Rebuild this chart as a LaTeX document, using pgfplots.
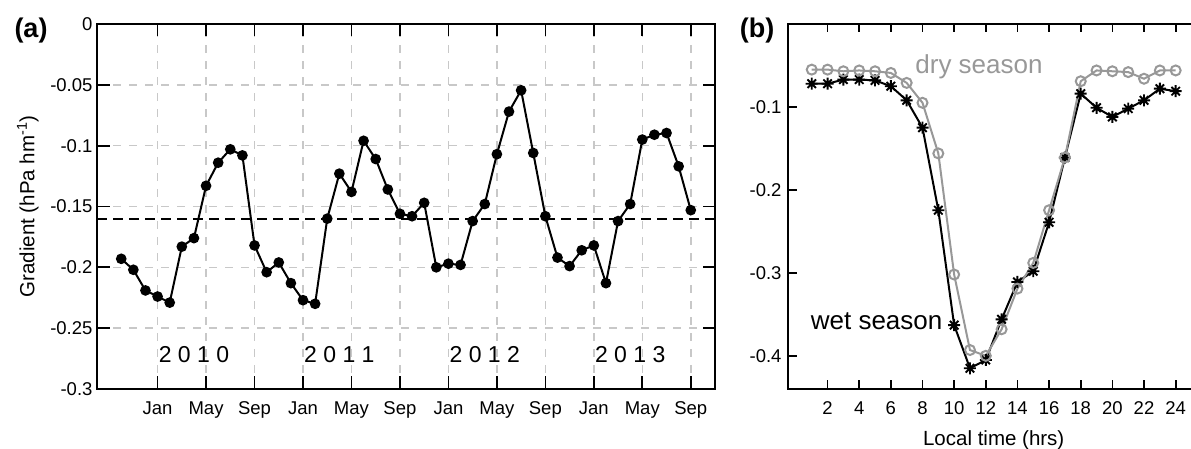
\documentclass[border=0pt]{standalone}
\usepackage{fontspec}
\setmainfont{Liberation Sans}
\usepackage{pgfplots}
\pgfplotsset{compat=1.18}
\definecolor{drygray}{RGB}{152,152,152}
\definecolor{gridgray}{RGB}{200,200,200}
\pgfdeclareplotmark{ast8}{%
  \pgfpathmoveto{\pgfqpoint{-\pgfplotmarksize}{0pt}}\pgfpathlineto{\pgfqpoint{\pgfplotmarksize}{0pt}}%
  \pgfpathmoveto{\pgfqpoint{0pt}{-\pgfplotmarksize}}\pgfpathlineto{\pgfqpoint{0pt}{\pgfplotmarksize}}%
  \pgfpathmoveto{\pgfqpoint{-0.707\pgfplotmarksize}{-0.707\pgfplotmarksize}}\pgfpathlineto{\pgfqpoint{0.707\pgfplotmarksize}{0.707\pgfplotmarksize}}%
  \pgfpathmoveto{\pgfqpoint{-0.707\pgfplotmarksize}{0.707\pgfplotmarksize}}\pgfpathlineto{\pgfqpoint{0.707\pgfplotmarksize}{-0.707\pgfplotmarksize}}%
  \pgfusepathqstroke}
\pgfplotstableread{
m v
-3 -0.193
-2 -0.202
-1 -0.219
0 -0.224
1 -0.229
2 -0.183
3 -0.176
4 -0.133
5 -0.114
6 -0.103
7 -0.108
8 -0.182
9 -0.204
10 -0.196
11 -0.213
12 -0.227
13 -0.230
14 -0.160
15 -0.123
16 -0.138
17 -0.096
18 -0.111
19 -0.136
20 -0.156
21 -0.158
22 -0.147
23 -0.200
24 -0.197
25 -0.198
26 -0.162
27 -0.148
28 -0.107
29 -0.072
30 -0.0545
31 -0.106
32 -0.158
33 -0.192
34 -0.199
35 -0.186
36 -0.182
37 -0.213
38 -0.162
39 -0.148
40 -0.095
41 -0.091
42 -0.0896
43 -0.117
44 -0.153
}\monthly
\pgfplotstableread{
h wet dry
1 -0.072 -0.055
2 -0.072 -0.055
3 -0.067 -0.057
4 -0.067 -0.056
5 -0.068 -0.057
6 -0.075 -0.059
7 -0.092 -0.071
8 -0.125 -0.095
9 -0.2245 -0.156
10 -0.363 -0.302
11 -0.415 -0.393
12 -0.405 -0.400
13 -0.356 -0.368
14 -0.311 -0.319
15 -0.298 -0.288
16 -0.239 -0.2245
17 -0.161 -0.161
18 -0.084 -0.069
19 -0.101 -0.056
20 -0.112 -0.057
21 -0.102 -0.058
22 -0.092 -0.066
23 -0.078 -0.056
24 -0.081 -0.056
}\diurnal
\begin{document}
\begin{tikzpicture}
\useasboundingbox (0,0) rectangle (1191pt,449pt);
\clip (0,0) rectangle (1191pt,449pt);
\pgfplotsset{
  every tick label/.append style={font=\fontsize{18.5}{20}\selectfont},
  every axis label/.append style={font=\fontsize{20.5}{23}\selectfont},
}
\begin{axis}[
  at={(97pt,60pt)}, anchor=south west, scale only axis,
  width=618pt, height=365pt,
  xmin=-5, xmax=46, ymin=-0.3, ymax=0,
  xtick={0,4,...,44},
  xticklabels={Jan,May,Sep,Jan,May,Sep,Jan,May,Sep,Jan,May,Sep},
  ytick={-0.3,-0.25,-0.2,-0.15,-0.1,-0.05,0},
  yticklabels={-0.3,-0.25,-0.2,-0.15,-0.1,-0.05,0},
  tick align=inside, major tick length=12.5pt,
  tick style={black, line width=1.7pt},
  axis line style={line width=1.7pt},
  xmajorgrids, ymajorgrids,
  major grid style={gridgray, line width=1.6pt, dash pattern=on 8pt off 8pt},
  xticklabel style={yshift=-9pt},
  yticklabel style={xshift=-1pt},
  ylabel={Gradient (hPa hm\textsuperscript{-1})},
  every axis y label/.style={at={(axis description cs:-0.112,0.5)}, rotate=90, anchor=center},
]
\addplot[black, line width=2.3pt, dash pattern=on 10pt off 6pt] coordinates {(-5,-0.16) (46,-0.16)};
\addplot[black, line width=2pt, mark=*, mark size=4.3pt] table[x=m,y=v] {\monthly};
\node[font=\fontsize{23}{25}\selectfont] at (axis cs:3,-0.2715) {2 0 1 0};
\node[font=\fontsize{23}{25}\selectfont] at (axis cs:15,-0.2715) {2 0 1 1};
\node[font=\fontsize{23}{25}\selectfont] at (axis cs:27,-0.2715) {2 0 1 2};
\node[font=\fontsize{23}{25}\selectfont] at (axis cs:39,-0.2715) {2 0 1 3};
\end{axis}
\begin{axis}[
  at={(788pt,60pt)}, anchor=south west, scale only axis,
  width=411.4pt, height=365pt,
  xmin=-0.5, xmax=25.5, ymin=-0.44, ymax=0,
  xtick={2,4,...,24},
  xticklabels={2,4,6,8,10,12,14,16,18,20,22,24},
  ytick={-0.4,-0.3,-0.2,-0.1},
  yticklabels={-0.4,-0.3,-0.2,-0.1},
  tick align=inside, major tick length=8.5pt,
  tick style={black, line width=1.7pt},
  axis line style={line width=1.7pt},
  xticklabel style={yshift=-9pt},
  yticklabel style={xshift=-3pt},
  xlabel={Local time (hrs)},
  every axis x label/.style={at={(axis description cs:0.5,0)}, anchor=center, yshift=-51pt},
]
\addplot[black, line width=2pt, mark=ast8, mark size=6pt, mark options={line width=1.9pt}] table[x=h,y=wet] {\diurnal};
\addplot[drygray, line width=2pt, mark=o, mark size=5pt, mark options={line width=2pt}] table[x=h,y=dry] {\diurnal};
\node[drygray, font=\fontsize{26}{28}\selectfont] at (axis cs:11.57,-0.0514) {dry season};
\node[black, font=\fontsize{26}{28}\selectfont] at (axis cs:5.1,-0.3587) {wet season};
\end{axis}
\node[font=\fontsize{27}{29}\selectfont\bfseries] at (31pt,418pt) {(a)};
\node[font=\fontsize{27}{29}\selectfont\bfseries] at (757pt,418pt) {(b)};
\end{tikzpicture}
\end{document}
